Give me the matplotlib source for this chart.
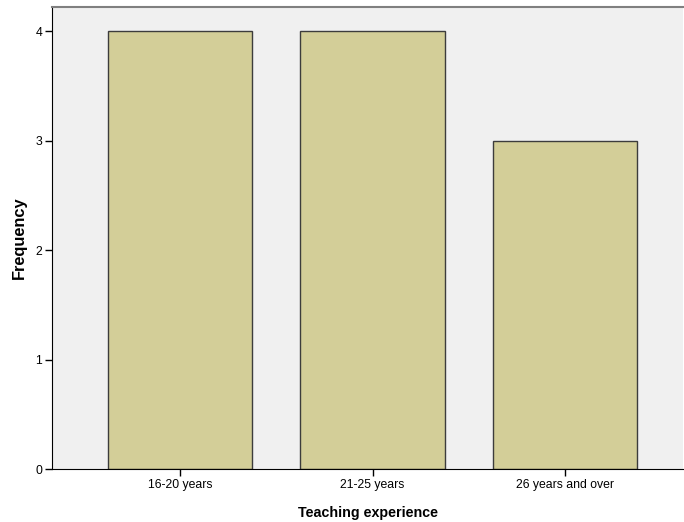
import matplotlib.pyplot as plt

categories = ['16-20 years', '21-25 years', '26 years and over']
frequency = [4, 4, 3]
yticks = [0, 1, 2, 3, 4]

plt.rcParams['font.family'] = ['Liberation Sans', 'DejaVu Sans']

fig = plt.figure(figsize=(6.84, 5.22), dpi=100)
ax = fig.add_axes([52 / 684, 53 / 522, 631 / 684, 462 / 522])
ax.set_facecolor('#f0f0f0')

x = range(len(categories))
ax.bar(x, frequency, width=0.75, color='#d3ce98', edgecolor='#3c3c3c', linewidth=1.0, zorder=2)

ax.set_xlim(-0.665, 2.613)
ax.set_ylim(0, 4.22)
ax.set_xticks(list(x))
ax.set_xticklabels(categories, fontsize=8.8)
ax.set_yticks(yticks)
ax.set_yticklabels([str(v) for v in yticks], fontsize=8.8)
ax.tick_params(axis='both', length=5, width=1, color='black', pad=2)

ax.spines['top'].set_color('#808080')
ax.spines['top'].set_linewidth(1.5)
ax.spines['right'].set_visible(False)
ax.spines['left'].set_color('black')
ax.spines['bottom'].set_color('black')

ax.set_xlabel('Teaching experience', fontsize=10.3, fontweight='bold', labelpad=11)
ax.set_ylabel('Frequency', fontsize=11.8, fontweight='bold', labelpad=6)

fig.savefig('out.png', dpi=100)
